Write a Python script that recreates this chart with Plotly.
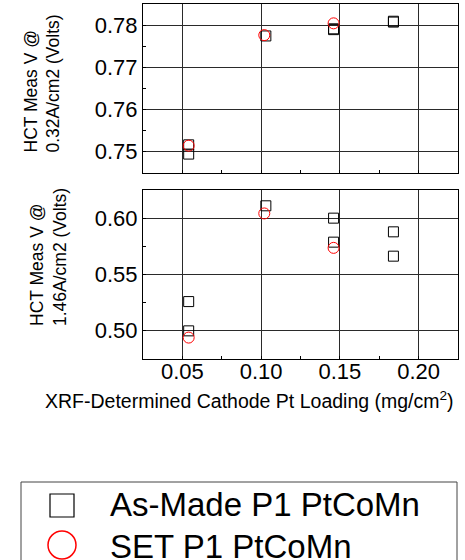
import plotly.graph_objects as go

# Cathode Pt loading (mg/cm2) and measured HCT voltages
as_made_x = [0.054, 0.054, 0.103, 0.146, 0.146, 0.184, 0.184]
as_made_v032 = [0.7516, 0.7494, 0.7775, 0.7792, 0.7790, 0.7810, 0.7808]
as_made_v146 = [0.5259, 0.4998, 0.6113, 0.6003, 0.5789, 0.5881, 0.5664]

set_x = [0.054, 0.102, 0.146]
set_v032 = [0.7514, 0.7777, 0.7805]
set_v146 = [0.4938, 0.6045, 0.5738]

x_ticks = [0.05, 0.10, 0.15, 0.20]
x_ticklabels = ["0.05", "0.10", "0.15", "0.20"]
top_ticks = [0.75, 0.76, 0.77, 0.78]
bot_ticks = [0.50, 0.55, 0.60]

series_names = ["As-Made P1 PtCoMn", "SET P1 PtCoMn"]

W, H = 465, 560
FONT = "Liberation Sans, Arial, sans-serif"


def px(x):
    return x / W


def py(y):
    return 1 - y / H


fig = go.Figure()

sq = dict(symbol="square-open", size=10, color="black", line=dict(width=1, color="black"))
ci = dict(symbol="circle-open", size=11, color="red", line=dict(width=1, color="red"))

fig.add_trace(go.Scatter(x=as_made_x, y=as_made_v032, mode="markers", marker=sq,
                         name=series_names[0], xaxis="x", yaxis="y", showlegend=False))
fig.add_trace(go.Scatter(x=set_x, y=set_v032, mode="markers", marker=ci,
                         name=series_names[1], xaxis="x", yaxis="y", showlegend=False))
fig.add_trace(go.Scatter(x=as_made_x, y=as_made_v146, mode="markers", marker=sq,
                         name=series_names[0], xaxis="x2", yaxis="y2", showlegend=False))
fig.add_trace(go.Scatter(x=set_x, y=set_v146, mode="markers", marker=ci,
                         name=series_names[1], xaxis="x2", yaxis="y2", showlegend=False))

common_x = dict(
    range=[0.025, 0.225], tickvals=x_ticks, ticktext=x_ticklabels,
    showgrid=True, gridcolor="#2a2a2a", gridwidth=1,
    showline=True, linecolor="black", linewidth=1, mirror=True,
    ticks="inside", ticklen=3, tickcolor="black", zeroline=False,
    minor=dict(dtick=0.025, tick0=0.025, ticks="inside", ticklen=3,
               tickcolor="black", showgrid=False),
    tickfont=dict(family=FONT, size=22, color="black"),
    ticklabelstandoff=-7,
    domain=[px(143), px(458)],
)
common_y = dict(
    showgrid=True, gridcolor="#2a2a2a", gridwidth=1,
    showline=True, linecolor="black", linewidth=1, mirror=True,
    ticks="inside", ticklen=3, tickcolor="black", zeroline=False,
    tickfont=dict(family=FONT, size=22, color="black"),
)

fig.update_layout(
    width=W, height=H,
    margin=dict(l=0, r=0, t=0, b=0),
    paper_bgcolor="white", plot_bgcolor="white",
    showlegend=False,
    xaxis=dict(common_x, anchor="y", showticklabels=False),
    yaxis=dict(common_y, anchor="x", range=[0.7449, 0.7851], tickvals=top_ticks,
               tickformat=".2f", domain=[py(173), py(4)],
               minor=dict(dtick=0.005, tick0=0.745, ticks="inside", ticklen=3,
                          tickcolor="black", showgrid=False)),
    xaxis2=dict(common_x, anchor="y2", matches="x"),
    yaxis2=dict(common_y, anchor="x2", range=[0.4747, 0.6254], tickvals=bot_ticks,
                tickformat=".2f", domain=[py(359), py(190)],
                minor=dict(dtick=0.025, tick0=0.475, ticks="inside", ticklen=3,
                           tickcolor="black", showgrid=False)),
)

ann_font = dict(family=FONT, size=17.5, color="black")
fig.add_annotation(text="HCT Meas V @<br>0.32A/cm2 (Volts)", textangle=-90,
                   x=px(42), y=py(83.5), xref="paper", yref="paper",
                   xanchor="center", yanchor="middle", align="left",
                   showarrow=False, font=ann_font)
fig.add_annotation(text="HCT Meas V @<br>1.46A/cm2 (Volts)", textangle=-90,
                   x=px(48.5), y=py(257.5), xref="paper", yref="paper",
                   xanchor="center", yanchor="middle", align="left",
                   showarrow=False, font=ann_font)
fig.add_annotation(text="XRF-Determined Cathode Pt Loading (mg/cm<sup>2</sup>)",
                   x=px(249), y=py(400), xref="paper", yref="paper",
                   xanchor="center", yanchor="middle", showarrow=False,
                   font=dict(family=FONT, size=19.5, color="black"))

# Legend box drawn by hand so its symbols can be large
fig.add_shape(type="rect", xref="paper", yref="paper",
              x0=px(21), x1=px(457), y0=py(482), y1=py(600),
              line=dict(color="#444444", width=1), fillcolor="rgba(0,0,0,0)")
fig.add_shape(type="rect", xref="paper", yref="paper",
              x0=px(50), x1=px(74), y0=py(494), y1=py(517),
              line=dict(color="black", width=1.2))
fig.add_shape(type="circle", xref="paper", yref="paper",
              x0=px(48), x1=px(76), y0=py(531), y1=py(559),
              line=dict(color="red", width=1.5))
leg_font = dict(family=FONT, size=33, color="black")
fig.add_annotation(text=series_names[0], x=px(108), y=py(504), xref="paper", yref="paper",
                   xanchor="left", yanchor="middle", showarrow=False, font=leg_font)
fig.add_annotation(text=series_names[1], x=px(108), y=py(546), xref="paper", yref="paper",
                   xanchor="left", yanchor="middle", showarrow=False, font=leg_font)

fig.write_html("out.html")
